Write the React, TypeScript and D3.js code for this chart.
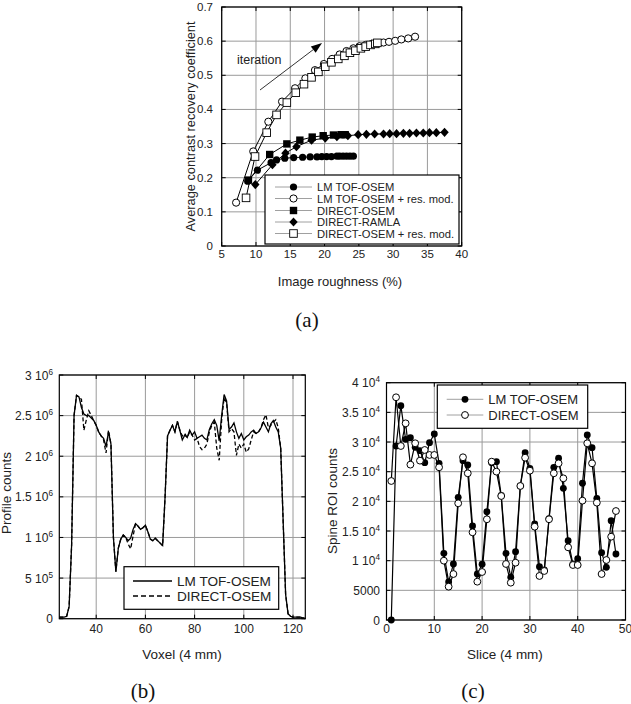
import React from 'react';
import * as d3 from 'd3';

const FONT = "'Liberation Sans', Arial, Helvetica, sans-serif";
const SERIF = "'Liberation Serif', 'Times New Roman', serif";
const GRID = '#9a9a9a';

// ---------------- Panel (a) data ----------------
const A_X_TICKS = [5, 10, 15, 20, 25, 30, 35, 40];
const A_Y_TICKS = [0, 0.1, 0.2, 0.3, 0.4, 0.5, 0.6, 0.7];
const A_Y_LABELS = ['0', '0.1', '0.2', '0.3', '0.4', '0.5', '0.6', '0.7'];
const A_SERIES_NAMES = ['LM TOF-OSEM', 'LM TOF-OSEM + res. mod.', 'DIRECT-OSEM', 'DIRECT-RAMLA', 'DIRECT-OSEM + res. mod.'];
const A_SERIES_MARKERS = ['fc', 'oc', 'fs', 'fd', 'os'];

const LMTOF_X = [8.8, 10.2, 12.2, 13.0, 14.2, 15.5, 16.8, 17.9, 18.9, 19.6, 20.3, 21.0, 21.8, 22.2, 22.7, 23.2, 23.7, 24.2];
const LMTOF_Y = [0.19, 0.222, 0.244, 0.252, 0.257, 0.259, 0.26, 0.261, 0.261, 0.262, 0.262, 0.262, 0.263, 0.263, 0.263, 0.263, 0.263, 0.263];

const LMTOFRM_X = [7.1, 9.6, 11.8, 13.8, 15.7, 17.2, 18.6, 19.9, 21.1, 22.2, 23.2, 24.2, 25.1, 26.0, 26.9, 27.7, 28.6, 29.4, 30.3, 31.2, 32.2, 33.2];
const LMTOFRM_Y = [0.127, 0.277, 0.364, 0.423, 0.462, 0.491, 0.515, 0.533, 0.548, 0.561, 0.571, 0.579, 0.585, 0.589, 0.592, 0.594, 0.596, 0.598, 0.601, 0.605, 0.608, 0.613];

const DOSEM_X = [8.9, 12.0, 14.5, 16.4, 18.2, 19.8, 21.3, 22.4, 23.0];
const DOSEM_Y = [0.193, 0.268, 0.299, 0.31, 0.319, 0.323, 0.325, 0.326, 0.326];

const DRAMLA_X = [9.9, 12.4, 14.3, 15.9, 18.1, 20.1, 21.8, 23.4, 24.9, 26.1, 27.3, 28.6, 29.5, 30.5, 31.5, 32.4, 33.4, 34.4, 35.3, 36.3, 37.5];
const DRAMLA_Y = [0.18, 0.238, 0.272, 0.291, 0.31, 0.316, 0.32, 0.323, 0.326, 0.327, 0.328, 0.328, 0.329, 0.329, 0.33, 0.33, 0.331, 0.331, 0.332, 0.332, 0.333];

const DOSEMRM_X = [8.55, 9.86, 11.56, 13.0, 14.5, 15.8, 17.0, 18.1, 19.1, 20.1, 21.0, 22.0, 22.9, 23.7, 24.5, 25.3, 26.0, 26.7, 27.4, 27.7];
const DOSEMRM_Y = [0.141, 0.262, 0.332, 0.384, 0.42, 0.449, 0.474, 0.494, 0.51, 0.525, 0.538, 0.548, 0.557, 0.566, 0.572, 0.579, 0.584, 0.589, 0.592, 0.595];

// ---------------- Panel (b) data ----------------
const B_X_TICKS = [40, 60, 80, 100, 120];
const B_Y_TICKS = [0, 5e5, 1e6, 1.5e6, 2e6, 2.5e6, 3e6];
const B_Y_MANT = ['0', '5', '1', '1.5', '2', '2.5', '3'];
const B_Y_EXP = ['', '5', '6', '6', '6', '6', '6'];
const B_SERIES_NAMES = ['LM TOF-OSEM', 'DIRECT-OSEM'];
const B_VOXEL_START = 25;
// profile values in units of 10^6, voxels 25..125
const B_SOLID = [0.02, 0.02, 0.02, 0.03, 0.15, 0.9, 2.5, 2.75, 2.73, 2.6, 2.52, 2.5, 2.5, 2.47, 2.44, 2.38, 2.3, 2.25, 2.22, 2.12, 2.3, 2.15, 1.0, 0.58, 0.87, 0.98, 1.03, 1.0, 0.96, 0.99, 1.1, 1.17, 1.14, 1.1, 1.12, 1.15, 1.07, 0.98, 0.96, 0.99, 0.96, 0.93, 0.9, 1.5, 2.25, 2.32, 2.38, 2.3, 2.43, 2.32, 2.2, 2.26, 2.23, 2.32, 2.26, 2.3, 2.22, 2.24, 2.26, 2.22, 2.2, 2.33, 2.4, 2.45, 2.38, 2.19, 2.5, 2.76, 2.68, 2.33, 2.36, 2.41, 2.3, 2.22, 2.28, 2.2, 2.24, 2.26, 2.3, 2.32, 2.28, 2.3, 2.35, 2.42, 2.36, 2.3, 2.4, 2.44, 2.36, 2.3, 2.1, 1.2, 0.3, 0.06, 0.03, 0.02, 0.02, 0.02, 0.02, 0.01, 0.0];
const B_DASHED = [0.02, 0.02, 0.02, 0.03, 0.15, 0.9, 2.5, 2.75, 2.73, 2.7, 2.32, 2.45, 2.56, 2.5, 2.44, 2.38, 2.3, 2.25, 2.2, 2.04, 2.32, 2.15, 1.0, 0.58, 0.87, 0.98, 1.03, 1.0, 0.92, 0.86, 1.02, 1.17, 1.14, 1.1, 1.12, 1.15, 1.07, 0.98, 0.96, 0.99, 0.96, 0.93, 0.9, 1.5, 2.25, 2.32, 2.38, 2.3, 2.43, 2.32, 2.25, 2.28, 2.23, 2.3, 2.26, 2.2, 2.22, 2.12, 2.08, 2.1, 2.15, 2.3, 2.38, 2.42, 2.1, 1.95, 2.45, 2.72, 2.66, 2.3, 2.34, 2.3, 2.01, 2.15, 2.1, 2.15, 2.05, 2.09, 2.2, 2.3, 2.28, 2.3, 2.35, 2.45, 2.51, 2.35, 2.38, 2.42, 2.45, 2.35, 2.1, 1.2, 0.3, 0.06, 0.03, 0.02, 0.02, 0.02, 0.02, 0.01, 0.0];

// ---------------- Panel (c) data ----------------
const C_X_TICKS = [0, 10, 20, 30, 40, 50];
const C_Y_TICKS = [0, 5000, 10000, 15000, 20000, 25000, 30000, 35000, 40000];
const C_Y_MANT = ['0', '5000', '1', '1.5', '2', '2.5', '3', '3.5', '4'];
const C_Y_EXP = ['', '', '4', '4', '4', '4', '4', '4', '4'];
const C_SERIES_NAMES = ['LM TOF-OSEM', 'DIRECT-OSEM'];
const C_SLICES = [1, 2, 3, 4, 5, 6, 7, 8, 9, 10, 11, 12, 13, 14, 15, 16, 17, 18, 19, 20, 21, 22, 23, 24, 25, 26, 27, 28, 29, 30, 31, 32, 33, 34, 35, 36, 37, 38, 39, 40, 41, 42, 43, 44, 45, 46, 47, 48];
const C_LMTOF = [0, 29330, 36130, 30460, 30740, 29110, 28540, 26520, 29890, 31360, 26410, 11240, 6410, 9440, 20680, 26860, 26130, 15850, 7750, 9390, 18260, 26500, 26690, 21000, 11240, 7200, 11520, 22600, 28200, 25570, 16180, 8990, 8430, 17100, 25740, 27260, 22200, 13370, 9400, 10340, 23050, 31190, 29050, 20510, 11350, 8880, 16740, 11130];
const C_DOSEM = [23430, 37540, 29330, 33150, 26190, 29790, 26860, 28660, 27820, 27820, 25740, 10000, 5620, 7750, 19670, 27430, 24730, 14780, 6460, 8090, 16980, 26690, 25010, 20900, 9440, 6290, 9660, 22590, 27360, 25170, 15730, 7420, 8260, 16980, 24730, 26410, 23880, 12250, 9270, 9270, 20120, 29790, 26410, 19780, 7750, 10110, 14040, 18370];

// ---------------- helpers ----------------
function Marker({ type, x, y, s = 1 }: { type: string; x: number; y: number; s?: number }) {
  const r = 3.6 * s;
  if (type === 'fc') return <circle cx={x} cy={y} r={r} fill="#000" />;
  if (type === 'oc') return <circle cx={x} cy={y} r={r} fill="#fff" stroke="#000" strokeWidth={1} />;
  if (type === 'fs') return <rect x={x - 3.7} y={y - 3.7} width={7.4} height={7.4} fill="#000" />;
  if (type === 'os') return <rect x={x - 3.8} y={y - 3.8} width={7.6} height={7.6} fill="#fff" stroke="#000" strokeWidth={0.9} />;
  if (type === 'fd') return <path d={`M${x},${y - 4.6}L${x + 4.2},${y}L${x},${y + 4.6}L${x - 4.2},${y}Z`} fill="#000" />;
  return null;
}

function Frame({ sx, sy, xTicks, yTicks }: any) {
  const [x0, x1] = sx.range();
  const [y0, y1] = sy.range();
  const left = Math.min(x0, x1), right = Math.max(x0, x1);
  const top = Math.min(y0, y1), bottom = Math.max(y0, y1);
  const tl = 4;
  return (
    <g>
      <rect x={left} y={top} width={right - left} height={bottom - top} fill="#fff" />
      {xTicks.map((t: number, i: number) => (
        <line key={'gx' + i} x1={sx(t)} x2={sx(t)} y1={top} y2={bottom} stroke={GRID} strokeWidth={1} />
      ))}
      {yTicks.map((t: number, i: number) => (
        <line key={'gy' + i} x1={left} x2={right} y1={sy(t)} y2={sy(t)} stroke={GRID} strokeWidth={1} />
      ))}
      {xTicks.map((t: number, i: number) => (
        <g key={'tx' + i}>
          <line x1={sx(t)} x2={sx(t)} y1={bottom} y2={bottom - tl} stroke="#000" />
          <line x1={sx(t)} x2={sx(t)} y1={top} y2={top + tl} stroke="#000" />
        </g>
      ))}
      {yTicks.map((t: number, i: number) => (
        <g key={'ty' + i}>
          <line x1={left} x2={left + tl} y1={sy(t)} y2={sy(t)} stroke="#000" />
          <line x1={right} x2={right - tl} y1={sy(t)} y2={sy(t)} stroke="#000" />
        </g>
      ))}
    </g>
  );
}

function Border({ sx, sy }: any) {
  const [x0, x1] = sx.range();
  const [y0, y1] = sy.range();
  return (
    <rect x={Math.min(x0, x1)} y={Math.min(y0, y1)} width={Math.abs(x1 - x0)} height={Math.abs(y1 - y0)}
      fill="none" stroke="#000" strokeWidth={1.2} />
  );
}

function SciLabel({ x, y, mant, exp, size }: any) {
  return (
    <text x={x} y={y} textAnchor="end" fontFamily={FONT} fontSize={size} fill="#222">
      {exp ? `${mant} 10` : mant}
      {exp ? <tspan dy={-5} fontSize={size * 0.68}>{exp}</tspan> : null}
    </text>
  );
}

export default function App() {
  // ---------- panel (a) ----------
  const ax = d3.scaleLinear().domain([5, 40]).range([221.7, 461.7]);
  const ay = d3.scaleLinear().domain([0, 0.7]).range([246, 7]);
  const aSeries = [
    { x: LMTOFRM_X, y: LMTOFRM_Y, m: 'oc' },
    { x: DOSEMRM_X, y: DOSEMRM_Y, m: 'os' },
    { x: DRAMLA_X, y: DRAMLA_Y, m: 'fd' },
    { x: DOSEM_X, y: DOSEM_Y, m: 'fs' },
    { x: LMTOF_X, y: LMTOF_Y, m: 'fc' },
  ];
  const aLine = d3.line<[number, number]>().x((d) => ax(d[0])).y((d) => ay(d[1]));

  // ---------- panel (b) ----------
  const bx = d3.scaleLinear().domain([25, 125]).range([59.3, 305.3]);
  const by = d3.scaleLinear().domain([0, 3e6]).range([618.7, 375]);
  const bLine = d3.line<number>().x((_, i) => bx(B_VOXEL_START + i)).y((d) => by(d * 1e6));

  // ---------- panel (c) ----------
  const cx = d3.scaleLinear().domain([0, 50]).range([386.5, 625.5]);
  const cy = d3.scaleLinear().domain([0, 40000]).range([620, 382.7]);
  const cLine = d3.line<number>().x((_, i) => cx(C_SLICES[i])).y((d) => cy(d));

  // arrow
  const arrowStart = [260, 90];
  const arrowEnd = [322, 43];
  const ang = Math.atan2(arrowEnd[1] - arrowStart[1], arrowEnd[0] - arrowStart[0]);
  const hl = 11, hw = 4;
  const bxp = arrowEnd[0] - hl * Math.cos(ang), byp = arrowEnd[1] - hl * Math.sin(ang);
  const head = `M${arrowEnd[0]},${arrowEnd[1]}L${bxp + hw * Math.sin(ang)},${byp - hw * Math.cos(ang)}L${bxp - hw * Math.sin(ang)},${byp + hw * Math.cos(ang)}Z`;

  const aLegRows = [187, 198.5, 210.5, 222, 233.5];

  return (
    <svg width={631} height={704} style={{ position: 'absolute', left: 0, top: 0, background: '#fff' }}>
      <rect x={0} y={0} width={631} height={704} fill="#fff" />

      {/* ================= Panel (a) ================= */}
      <Frame sx={ax} sy={ay} xTicks={A_X_TICKS} yTicks={A_Y_TICKS} />
      {A_Y_TICKS.map((t, i) => (
        <text key={'ayl' + i} x={213} y={ay(t) + 4} textAnchor="end" fontFamily={FONT} fontSize={11.5} fill="#222">{A_Y_LABELS[i]}</text>
      ))}
      {A_X_TICKS.map((t, i) => (
        <text key={'axl' + i} x={ax(t)} y={258} textAnchor="middle" fontFamily={FONT} fontSize={11.5} fill="#222">{t}</text>
      ))}
      {aSeries.map((s, si) => (
        <path key={'al' + si} d={aLine(s.x.map((v, i) => [v, s.y[i]] as [number, number])) || ''} fill="none" stroke="#000" strokeWidth={1} />
      ))}
      {aSeries.map((s, si) => (
        <g key={'am' + si}>
          {s.x.map((v, i) => <Marker key={i} type={s.m} x={ax(v)} y={ay(s.y[i])} />)}
        </g>
      ))}
      <line x1={arrowStart[0]} y1={arrowStart[1]} x2={bxp} y2={byp} stroke="#000" strokeWidth={0.8} />
      <path d={head} fill="#000" />
      <text x={237} y={64} fontFamily={FONT} fontSize={12.5} fill="#222">iteration</text>
      {/* legend (a) */}
      <rect x={265} y={175} width={194} height={69} fill="#fff" stroke="#000" strokeWidth={1.2} />
      {A_SERIES_NAMES.map((n, i) => (
        <g key={'alg' + i}>
          <line x1={275} x2={312} y1={aLegRows[i]} y2={aLegRows[i]} stroke="#888" strokeWidth={0.8} />
          <Marker type={A_SERIES_MARKERS[i]} x={293.5} y={aLegRows[i]} />
          <text x={317} y={aLegRows[i] + 4} fontFamily={FONT} fontSize={11.2} fill="#222">{n}</text>
        </g>
      ))}
      <Border sx={ax} sy={ay} />
      <text x={340} y={286} textAnchor="middle" fontFamily={FONT} fontSize={13} fill="#222">Image roughness (%)</text>
      <text transform={`translate(195,126.5) rotate(-90)`} textAnchor="middle" fontFamily={FONT} fontSize={12.8} fill="#222">Average contrast recovery coefficient</text>
      <text x={307} y={327} textAnchor="middle" fontFamily={SERIF} fontSize={21} fill="#111">(a)</text>

      {/* ================= Panel (b) ================= */}
      <Frame sx={bx} sy={by} xTicks={B_X_TICKS} yTicks={B_Y_TICKS} />
      {B_Y_TICKS.map((t, i) => (
        <SciLabel key={'byl' + i} x={53} y={by(t) + 4.5} mant={B_Y_MANT[i]} exp={B_Y_EXP[i]} size={12} />
      ))}
      {B_X_TICKS.map((t, i) => (
        <text key={'bxl' + i} x={bx(t)} y={632.5} textAnchor="middle" fontFamily={FONT} fontSize={12} fill="#222">{t}</text>
      ))}
      <path d={bLine(B_DASHED) || ''} fill="none" stroke="#000" strokeWidth={1.3} strokeDasharray="4,2.5" />
      <path d={bLine(B_SOLID) || ''} fill="none" stroke="#000" strokeWidth={1.3} />
      <rect x={124} y={566.7} width={154.7} height={42.6} fill="#fff" stroke="#000" strokeWidth={1.2} />
      <line x1={133} x2={172} y1={581} y2={581} stroke="#000" strokeWidth={1.3} />
      <line x1={133} x2={172} y1={596} y2={596} stroke="#000" strokeWidth={1.3} strokeDasharray="5,3" />
      <text x={177} y={586} fontFamily={FONT} fontSize={13.6} fill="#222">{B_SERIES_NAMES[0]}</text>
      <text x={177} y={601} fontFamily={FONT} fontSize={13.6} fill="#222">{B_SERIES_NAMES[1]}</text>
      <Border sx={bx} sy={by} />
      <text x={182} y={659} textAnchor="middle" fontFamily={FONT} fontSize={13.5} fill="#222">Voxel (4 mm)</text>
      <text transform={`translate(11,493) rotate(-90)`} textAnchor="middle" fontFamily={FONT} fontSize={13.5} fill="#222">Profile counts</text>
      <text x={143} y={698} textAnchor="middle" fontFamily={SERIF} fontSize={21} fill="#111">(b)</text>

      {/* ================= Panel (c) ================= */}
      <Frame sx={cx} sy={cy} xTicks={C_X_TICKS} yTicks={C_Y_TICKS} />
      {C_Y_TICKS.map((t, i) => (
        <SciLabel key={'cyl' + i} x={380} y={cy(t) + 4.5} mant={C_Y_MANT[i]} exp={C_Y_EXP[i]} size={12} />
      ))}
      {C_X_TICKS.map((t, i) => (
        <text key={'cxl' + i} x={cx(t)} y={632.5} textAnchor="middle" fontFamily={FONT} fontSize={12} fill="#222">{t}</text>
      ))}
      <path d={cLine(C_LMTOF) || ''} fill="none" stroke="#000" strokeWidth={1.2} />
      <path d={cLine(C_DOSEM) || ''} fill="none" stroke="#000" strokeWidth={1.2} />
      {C_LMTOF.map((v, i) => <Marker key={'cf' + i} type="fc" x={cx(C_SLICES[i])} y={cy(v)} s={0.95} />)}
      {C_DOSEM.map((v, i) => <Marker key={'co' + i} type="oc" x={cx(C_SLICES[i])} y={cy(v)} s={0.95} />)}
      <rect x={437.3} y={385} width={150.4} height={43.3} fill="#fff" stroke="#000" strokeWidth={1.2} />
      <line x1={446.7} x2={483.3} y1={399.3} y2={399.3} stroke="#888" strokeWidth={0.8} />
      <line x1={446.7} x2={483.3} y1={415} y2={415} stroke="#888" strokeWidth={0.8} />
      <Marker type="fc" x={465} y={399.3} s={0.95} />
      <Marker type="oc" x={465} y={415} s={0.95} />
      <text x={488.3} y={404} fontFamily={FONT} fontSize={13} fill="#222">{C_SERIES_NAMES[0]}</text>
      <text x={488.3} y={420} fontFamily={FONT} fontSize={13} fill="#222">{C_SERIES_NAMES[1]}</text>
      <Border sx={cx} sy={cy} />
      <text x={505} y={659} textAnchor="middle" fontFamily={FONT} fontSize={13.5} fill="#222">Slice (4 mm)</text>
      <text transform={`translate(337,501) rotate(-90)`} textAnchor="middle" fontFamily={FONT} fontSize={13.5} fill="#222">Spine ROI counts</text>
      <text x={473} y={698} textAnchor="middle" fontFamily={SERIF} fontSize={21} fill="#111">(c)</text>
    </svg>
  );
}
